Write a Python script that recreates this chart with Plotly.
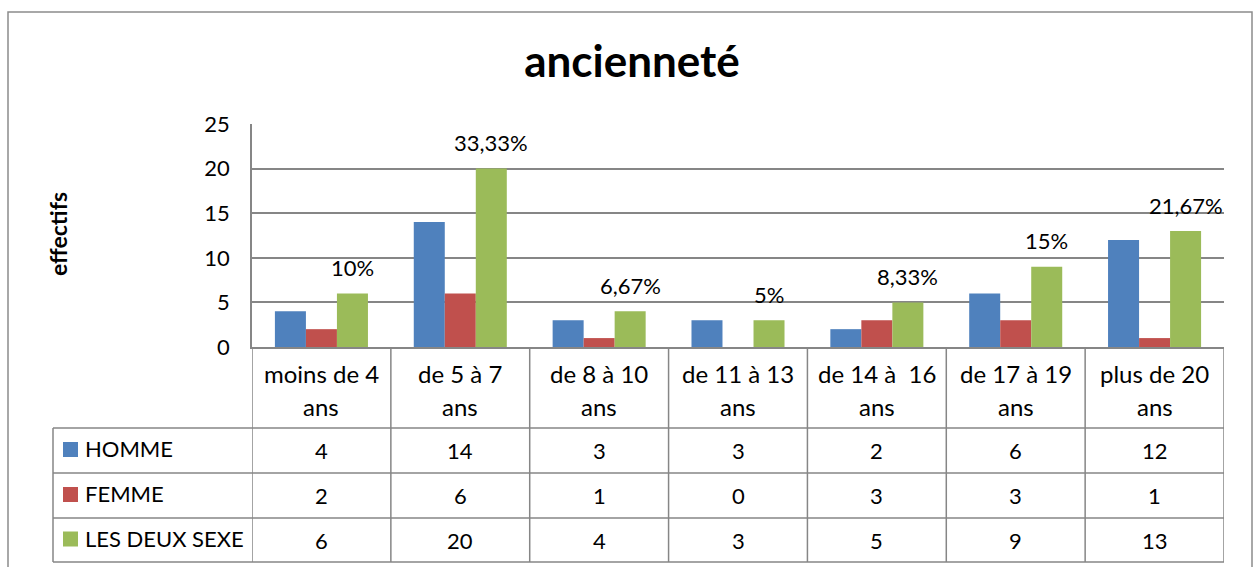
import plotly.graph_objects as go

# ---- data ----
categories = ["moins de 4<br>ans", "de 5 à 7<br>ans", "de 8 à 10<br>ans", "de 11 à 13<br>ans",
              "de 14 à  16<br>ans", "de 17 à 19<br>ans", "plus de 20<br>ans"]
series_names = ["HOMME", "FEMME", "LES DEUX SEXE"]
homme = [4, 14, 3, 3, 2, 6, 12]
femme = [2, 6, 1, 0, 3, 3, 1]
deux = [6, 20, 4, 3, 5, 9, 13]
pct_labels = ["10%", "33,33%", "6,67%", "5%", "8,33%", "15%", "21,67%"]
colors = ["#4F81BD", "#C0504D", "#9BBB59"]
y_ticks = [0, 5, 10, 15, 20, 25]

# ---- geometry (page pixels; the body margin is removed by post_script) ----
OFF = 0
W, H = 1256 - 2 * OFF, 567 - 2 * OFF
PLOT_LEFT, PLOT_RIGHT, PLOT_TOP, PLOT_BOT = 252, 1224, 124, 347
L, R = PLOT_LEFT - OFF, W - (PLOT_RIGHT - OFF)
T, B = PLOT_TOP - OFF, H - (PLOT_BOT - OFF)
PW, PH = W - L - R, H - T - B
FONT = "Lato"
GRID = "#868686"
BAR_GAP = 0.33


def px2x(px):
    return (px - OFF - L) / PW


def py2y(py):
    return (H - B - (py - OFF)) / PH


n = len(categories)
xs = list(range(n))
series = [homme, femme, deux]

fig = go.Figure()
for name, vals, col in zip(series_names, series, colors):
    fig.add_trace(go.Bar(
        x=xs, y=[v if v != 0 else None for v in vals], name=name,
        marker=dict(color=col, line=dict(width=0)),
        showlegend=False, hoverinfo="x+y+name",
    ))

shapes = []
annotations = []

# outer chart border
shapes.append(dict(type="rect", xref="paper", yref="paper",
                   x0=px2x(8), x1=px2x(1252), y0=py2y(600), y1=py2y(12),
                   line=dict(color="#8C8C8C", width=1.5), fillcolor="rgba(0,0,0,0)", layer="below"))

# percentage labels above green bars
bar_w = (1 - BAR_GAP) / 3
for i, (v, lab) in enumerate(zip(deux, pct_labels)):
    annotations.append(dict(x=i + bar_w, y=v, xref="x", yref="y", text=lab, showarrow=False,
                            yshift=26, yanchor="middle", xanchor="center",
                            font=dict(family=FONT, size=22, color="#000")))

# table rows (page pixels)
row_edges = [428, 473, 518, 562]
legend_left = 53
line_style = dict(color=GRID, width=1.5)

for py in row_edges:
    shapes.append(dict(type="line", xref="paper", yref="paper", x0=px2x(legend_left), x1=1,
                       y0=py2y(py), y1=py2y(py), line=line_style))
shapes.append(dict(type="line", xref="paper", yref="paper", x0=px2x(legend_left), x1=px2x(legend_left),
                   y0=py2y(row_edges[0]), y1=py2y(row_edges[-1]), line=line_style))
for i in range(n + 1):
    shapes.append(dict(type="line", xref="x", yref="paper", x0=i - 0.5, x1=i - 0.5,
                       y0=0, y1=py2y(row_edges[-1]), line=line_style))

# category labels (two lines each)
for i, cat in enumerate(categories):
    for k, ln in enumerate(cat.split("<br>")):
        annotations.append(dict(x=i, y=py2y(373 + 33 * k), xref="x", yref="paper", text=ln,
                                showarrow=False, xanchor="center", yanchor="middle",
                                font=dict(family=FONT, size=24, color="#000")))

# data rows
for r, (name, vals, col) in enumerate(zip(series_names, series, colors)):
    top, bot = row_edges[r], row_edges[r + 1]
    cy = (top + bot) / 2
    shapes.append(dict(type="rect", xref="paper", yref="paper", x0=px2x(63), x1=px2x(78),
                       y0=py2y(cy + 6.5), y1=py2y(cy - 8.5), fillcolor=col, line=dict(width=0)))
    annotations.append(dict(x=px2x(83), y=py2y(cy - 2), xref="paper", yref="paper", text=name,
                            showarrow=False, xanchor="left", yanchor="middle",
                            font=dict(family=FONT, size=22, color="#000")))
    for i, v in enumerate(vals):
        annotations.append(dict(x=i, y=py2y(cy), xref="x", yref="paper", text=str(v),
                                showarrow=False, xanchor="center", yanchor="middle",
                                font=dict(family=FONT, size=22, color="#000")))

# y axis title
annotations.append(dict(x=px2x(58), y=py2y(234), xref="paper", yref="paper", text="<b>effectifs</b>",
                        showarrow=False, textangle=-90, xanchor="center", yanchor="middle",
                        font=dict(family=FONT, size=23, color="#000")))

fig.update_layout(
    width=W, height=H,
    margin=dict(l=L, r=R, t=T, b=B, pad=0),
    paper_bgcolor="white", plot_bgcolor="white",
    barmode="group", bargap=BAR_GAP, bargroupgap=0,
    title=dict(text="<b>ancienneté</b>", x=(632 - OFF) / W, xanchor="center",
               y=1 - (62 - OFF) / H, yanchor="middle",
               font=dict(family=FONT, size=44, color="#000")),
    xaxis=dict(range=[-0.5, n - 0.5], showticklabels=False, showgrid=False, zeroline=False,
               showline=True, linecolor=GRID, linewidth=1.5, fixedrange=True),
    yaxis=dict(range=[0, 25], tickvals=y_ticks, showgrid=True, gridcolor=GRID, gridwidth=1.5,
               zeroline=False, showline=True, linecolor=GRID, linewidth=1.5,
               ticks="", ticklabelstandoff=16,
               tickfont=dict(family=FONT, size=22, color="#000"), fixedrange=True),
    shapes=shapes, annotations=annotations,
    font=dict(family=FONT),
)

fig.write_html(
    "out.html",
    config={"displayModeBar": False},
    post_script="document.body.style.margin='0px';document.body.style.overflow='hidden';",
)
